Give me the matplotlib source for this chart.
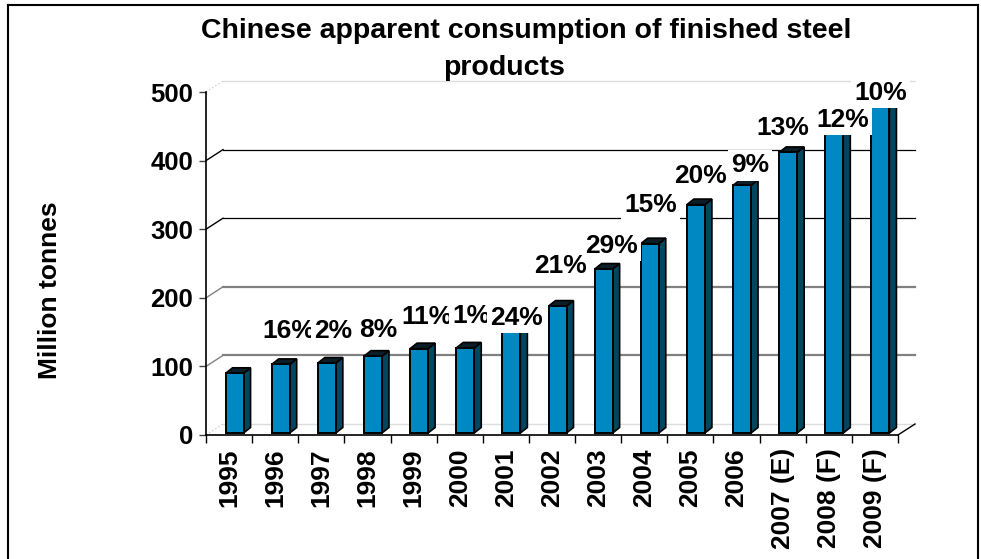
import matplotlib
matplotlib.use('Agg')
import matplotlib.pyplot as plt
from matplotlib.patches import Polygon
from matplotlib.lines import Line2D
from matplotlib import font_manager
import numpy as np

years = ['1995', '1996', '1997', '1998', '1999', '2000', '2001', '2002',
         '2003', '2004', '2005', '2006', '2007 (E)', '2008 (F)', '2009 (F)']
consumption = [87, 100, 102, 112, 123, 124, 153, 185, 239, 276, 333, 361, 409, 458, 504]
growth = ['', '16%', '2%', '8%', '11%', '1%', '24%', '21%', '29%', '15%',
          '20%', '9%', '13%', '12%', '10%']
y_ticks = [0, 100, 200, 300, 400, 500]

# label nudges in pixels (dx, dy) from the top of each bar, hand placed like the original
label_nudge = [(0, 0), (8, 36), (6, 35), (5, 29), (8, 35), (6, 35), (5, 13), (3, 43),
               (8, 26), (1, 42), (5, 32), (8, 23), (-5, 27), (8, 2), (0, -3)]

W, H = 981, 559
FRONT = '#0088c2'
SIDE = '#00465f'
TOP = '#0b1e28'

plt.rcParams['font.family'] = ['Liberation Sans', 'DejaVu Sans']
plt.rcParams['font.weight'] = 'bold'

names = {f.name for f in font_manager.fontManager.ttflist}
if 'Liberation Sans Narrow' in names:
    label_font, label_size = ['Liberation Sans Narrow', 'DejaVu Sans'], 21
else:
    label_font, label_size = ['Liberation Sans', 'DejaVu Sans'], 19

fig = plt.figure(figsize=(W / 100, H / 100), dpi=100)
ax = fig.add_axes([206 / W, 124 / H, 692 / W, 343 / H])
n = len(years)
ax.set_xlim(-0.5, n - 0.5)
ax.set_ylim(0, 500)

ux = 692 / n      # px per category
uy = 343 / 500    # px per tonne unit

# depth of the fake 3d wall and bars
wall_dx, wall_dy = 17 / ux, 11 / uy
bar_dx, bar_dy = 7 / ux, 5.5 / uy
bar_w = 18 / ux
bar_shift = 5.5 / ux
lift = 2 / uy

for s in ['top', 'right']:
    ax.spines[s].set_visible(False)
ax.spines['left'].set_linewidth(1.2)
ax.spines['bottom'].set_linewidth(1.2)

# back wall gridlines
x0, x1 = -0.5, n - 0.5
for v in y_ticks:
    if v in (0, 500):
        col, lw = '#dddddd', 1.0
    elif v in (300, 400):
        col, lw = 'black', 0.9
    else:
        col, lw = '#808080', 1.6
    ax.plot([x0 + wall_dx, x1 + wall_dx], [v + wall_dy] * 2, color=col, lw=lw,
            clip_on=False, zorder=0.5)
    dcol = '#cfcfcf' if v in (0, 500) else col
    dls = ':' if v in (0, 500) else '-'
    ax.plot([x0, x0 + wall_dx], [v, v + wall_dy], color=dcol, lw=1.0, ls=dls,
            clip_on=False, zorder=0.5)
ax.plot([x1, x1 + wall_dx], [0, wall_dy], color='black', lw=1.0, clip_on=False, zorder=0.5)

x = np.arange(n)
bars = ax.bar(x + bar_shift, consumption, width=bar_w, bottom=lift, color=FRONT,
              edgecolor='black', linewidth=1.4, zorder=2, clip_on=False)
for b in bars:
    l = b.get_x()
    r = l + b.get_width()
    bot = b.get_y()
    top = bot + b.get_height()
    side = Polygon([(r, bot), (r, top), (r + bar_dx, top + bar_dy), (r + bar_dx, bot + bar_dy)],
                   closed=True, fc=SIDE, ec='black', lw=1.2, zorder=1.9, clip_on=False)
    cap = Polygon([(l, top), (r, top), (r + bar_dx, top + bar_dy), (l + bar_dx, top + bar_dy)],
                  closed=True, fc=TOP, ec='black', lw=1.2, zorder=1.9, clip_on=False)
    ax.add_patch(side)
    ax.add_patch(cap)

for i, txt in enumerate(growth):
    if not txt:
        continue
    dx, dy = label_nudge[i]
    ax.annotate(txt, xy=(i + bar_shift, lift + consumption[i]), xytext=(dx, dy - 10),
                textcoords='offset pixels', ha='center', va='baseline',
                fontsize=label_size, fontweight='bold', family=label_font,
                bbox=dict(boxstyle='square,pad=0.12', fc='white', ec='none'),
                zorder=5, annotation_clip=False)

ax.set_yticks(y_ticks)
ax.tick_params(axis='y', direction='out', length=5, width=1, color='#404040',
               pad=4.3, labelsize=18.5)
ax.set_xticks(x)
ax.set_xticklabels(years, rotation=90)
ax.tick_params(axis='x', which='major', length=0, pad=9.4, labelsize=19)
ax.set_xticks(np.arange(-0.5, n, 1), minor=True)
ax.tick_params(axis='x', which='minor', direction='out', length=5.8, width=1, color='black')

fig.text(526 / W, 1 - 38 / H, 'Chinese apparent consumption of finished steel',
         ha='center', va='baseline', fontsize=20.5, fontweight='bold')
fig.text(504 / W, 1 - 75 / H, 'products', ha='center', va='baseline',
         fontsize=20.5, fontweight='bold')
fig.text(50 / W, 1 - 290 / H, 'Million tonnes', rotation=90, ha='center', va='center',
         fontsize=19, fontweight='bold')

# frame around the chart area
for xs, ys in [([8, 8], [0, H - 5]), ([8, 978], [H - 5, H - 5]), ([978, 978], [H - 5, 0])]:
    fig.add_artist(Line2D([v / W for v in xs], [v / H for v in ys],
                          transform=fig.transFigure, color='black', lw=1.5))

fig.savefig('out.png', dpi=100)
